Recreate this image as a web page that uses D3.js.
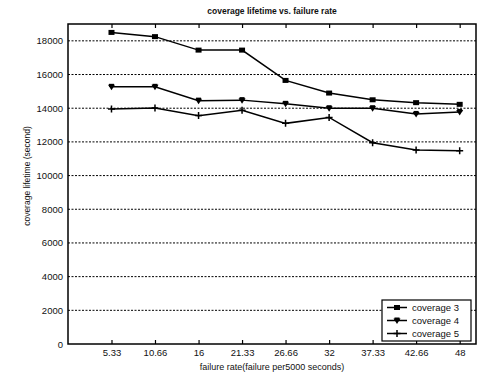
<!DOCTYPE html>
<html>
<head>
<meta charset="utf-8">
<script src="https://cdn.jsdelivr.net/npm/d3@7"></script>
<style>
  html, body { margin: 0; padding: 0; background: #fff; }
  svg { display: block; font-family: "Liberation Sans", Arial, sans-serif; }
</style>
</head>
<body>
<svg id="chart" width="480" height="373"></svg>
<script>
// failure rate (failures per 5000 s)
const rates = [5.33, 10.66, 16, 21.33, 26.66, 32, 37.33, 42.66, 48];
const rateLabels = ["5.33", "10.66", "16", "21.33", "26.66", "32", "37.33", "42.66", "48"];
// coverage lifetime (seconds)
const coverage3 = [18500, 18250, 17450, 17450, 15650, 14900, 14500, 14330, 14230];
const coverage4 = [15270, 15270, 14450, 14480, 14260, 14000, 14000, 13660, 13780];
const coverage5 = [13960, 14010, 13560, 13880, 13100, 13450, 11950, 11520, 11480];
const seriesNames = ["coverage 3", "coverage 4", "coverage 5"];
const yTicks = [0, 2000, 4000, 6000, 8000, 10000, 12000, 14000, 16000, 18000];

const series = [
  { name: seriesNames[0], values: coverage3, marker: "square" },
  { name: seriesNames[1], values: coverage4, marker: "diamond" },
  { name: seriesNames[2], values: coverage5, marker: "plus" }
];

const svg = d3.select("#chart");
const L = 68, R = 476, T = 24, B = 344;

const x = d3.scaleLinear().domain([0, 50]).range([L, R]);
const y = d3.scaleLinear().domain([0, 19000]).range([B, T]);

// horizontal grid
svg.append("g")
  .selectAll("line")
  .data(yTicks.filter(d => d > 0))
  .join("line")
  .attr("x1", L).attr("x2", R)
  .attr("y1", d => y(d)).attr("y2", d => y(d))
  .attr("stroke", "#000")
  .attr("stroke-width", 1)
  .attr("stroke-dasharray", "2,1.5");

// left axis
const yAxis = d3.axisLeft(y).tickValues(yTicks).tickSize(0).tickPadding(5).tickFormat(d3.format("d"));
const gy = svg.append("g").attr("transform", `translate(${L},0)`).call(yAxis);
gy.select(".domain").remove();
gy.selectAll("text").attr("font-size", 9.5).attr("fill", "#111");

// bottom axis with inward ticks
const xAxis = d3.axisBottom(x).tickValues(rates).tickFormat((d, i) => rateLabels[i]).tickSize(-4).tickPadding(5);
const gx = svg.append("g").attr("transform", `translate(0,${B})`).call(xAxis);
gx.select(".domain").remove();
gx.selectAll("line").attr("stroke", "#000").attr("stroke-width", 1.2);
gx.selectAll("text").attr("font-size", 9.5).attr("fill", "#111");

// top axis ticks
const xTop = d3.axisTop(x).tickValues(rates).tickFormat("").tickSize(-4);
const gt = svg.append("g").attr("transform", `translate(0,${T})`).call(xTop);
gt.select(".domain").remove();
gt.selectAll("line").attr("stroke", "#000").attr("stroke-width", 1.2);

// frame
svg.append("rect")
  .attr("x", L).attr("y", T).attr("width", R - L).attr("height", B - T)
  .attr("fill", "none").attr("stroke", "#000").attr("stroke-width", 1.5);

// series lines
const line = d3.line().x((d, i) => x(rates[i])).y(d => y(d));
function drawMarker(g, kind, cx, cy) {
  if (kind === "square") {
    g.append("rect").attr("x", cx - 3).attr("y", cy - 2.5).attr("width", 6).attr("height", 5).attr("fill", "#000");
  } else if (kind === "diamond") {
    g.append("path").attr("d", `M${cx - 3.5},${cy - 2} L${cx + 3.5},${cy - 2} L${cx},${cy + 3.5} Z`).attr("fill", "#000");
    g.append("rect").attr("x", cx - 2.5).attr("y", cy - 3).attr("width", 5).attr("height", 3).attr("fill", "#000");
  } else {
    g.append("path").attr("d", `M${cx - 3.5},${cy} H${cx + 3.5} M${cx},${cy - 3.5} V${cy + 3.5}`)
      .attr("stroke", "#000").attr("stroke-width", 1.5).attr("fill", "none");
  }
}
series.forEach(s => {
  svg.append("path").datum(s.values)
    .attr("d", line).attr("fill", "none").attr("stroke", "#000").attr("stroke-width", 1.5);
  const g = svg.append("g");
  s.values.forEach((v, i) => drawMarker(g, s.marker, x(rates[i]), y(v)));
});

// legend
const lg = svg.append("g");
lg.append("rect").attr("x", 382).attr("y", 300).attr("width", 89).attr("height", 41)
  .attr("fill", "#fff").attr("stroke", "#000").attr("stroke-width", 1.2);
series.forEach((s, i) => {
  const cy = 307.5 + i * 13;
  lg.append("line").attr("x1", 387).attr("x2", 407).attr("y1", cy).attr("y2", cy)
    .attr("stroke", "#000").attr("stroke-width", 1.5);
  drawMarker(lg, s.marker, 397, cy);
  lg.append("text").attr("x", 412).attr("y", cy + 3.3).attr("font-size", 9.5).attr("fill", "#111").text(s.name);
});

// titles
svg.append("text").attr("x", 272).attr("y", 14).attr("text-anchor", "middle")
  .attr("font-size", 8.5).attr("font-weight", "bold").attr("fill", "#111")
  .text("coverage lifetime vs. failure rate");
svg.append("text").attr("x", 272).attr("y", 370).attr("text-anchor", "middle")
  .attr("font-size", 9).attr("fill", "#111")
  .text("failure rate(failure per5000 seconds)");
svg.append("text").attr("transform", "translate(30,176) rotate(-90)").attr("text-anchor", "middle")
  .attr("font-size", 8.5).attr("fill", "#111")
  .text("coverage lifetime (second)");
</script>
</body>
</html>
